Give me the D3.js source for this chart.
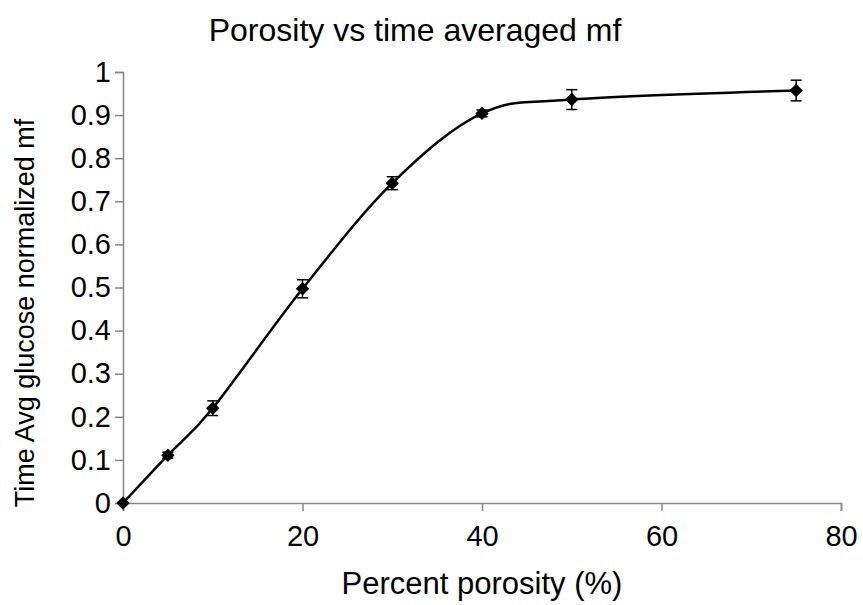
<!DOCTYPE html>
<html>
<head>
<meta charset="utf-8">
<script src="https://cdn.jsdelivr.net/npm/d3@7/dist/d3.min.js"></script>
<style>
  html, body { margin: 0; padding: 0; background: #fff; }
  svg { display: block; font-family: "Liberation Sans", Arial, sans-serif; }
</style>
</head>
<body>
<svg id="chart" width="863" height="605"></svg>
<script>
// Porosity (%) and time-averaged glucose-normalized mass fraction
const porosity = [0, 5, 10, 20, 30, 40, 50, 75];
const mfMean   = [0, 0.111, 0.220, 0.497, 0.742, 0.904, 0.936, 0.957];
const mfError  = [0, 0.007, 0.017, 0.021, 0.015, 0.008, 0.023, 0.024];
const xTicks = [0, 20, 40, 60, 80];
const yTicks = [0, 0.1, 0.2, 0.3, 0.4, 0.5, 0.6, 0.7, 0.8, 0.9, 1];

const svg = d3.select("#chart");
const margin = { left: 123, right: 22, top: 72, bottom: 102 };
const W = 863, H = 605;

const x = d3.scaleLinear().domain([0, 80]).range([margin.left, W - margin.right]);
const y = d3.scaleLinear().domain([0, 1]).range([H - margin.bottom, margin.top]);

const axisColor = "#868686";
const tickFont = 29;

// y axis
const gy = svg.append("g")
  .attr("transform", `translate(${x(0)},0)`)
  .call(d3.axisLeft(y).tickValues(yTicks).tickSize(8).tickPadding(4)
    .tickFormat(d => d3.format("")(+d.toFixed(1))));
gy.select(".domain").attr("stroke", axisColor).attr("stroke-width", 1.5);
gy.selectAll(".tick line").attr("stroke", axisColor).attr("stroke-width", 1.5);
gy.selectAll(".tick text").attr("fill", "#000").style("font-size", tickFont + "px");

// x axis
const gx = svg.append("g")
  .attr("transform", `translate(0,${y(0)})`)
  .call(d3.axisBottom(x).tickValues(xTicks).tickSize(8).tickPadding(14));
gx.select(".domain").attr("stroke", axisColor).attr("stroke-width", 1.5);
gx.selectAll(".tick line").attr("stroke", axisColor).attr("stroke-width", 1.5);
gx.selectAll(".tick text").attr("fill", "#000").style("font-size", tickFont + "px");

const pts = porosity.map((p, i) => ({ p, m: mfMean[i], e: mfError[i] }));

// smoothed connecting line
const line = d3.line().x(d => x(d.p)).y(d => y(d.m)).curve(d3.curveCardinal.tension(0));
svg.append("path").datum(pts)
  .attr("d", line).attr("fill", "none").attr("stroke", "#000").attr("stroke-width", 2.5);

// error bars
const cap = 5.5;
const eb = svg.append("g").attr("stroke", "#000").attr("stroke-width", 1.5);
pts.filter(d => d.e > 0).forEach(d => {
  const cx = x(d.p), y1 = y(d.m + d.e), y2 = y(d.m - d.e);
  eb.append("line").attr("x1", cx).attr("x2", cx).attr("y1", y1).attr("y2", y2);
  eb.append("line").attr("x1", cx - cap).attr("x2", cx + cap).attr("y1", y1).attr("y2", y1);
  eb.append("line").attr("x1", cx - cap).attr("x2", cx + cap).attr("y1", y2).attr("y2", y2);
});

// diamond markers
const diamond = d3.symbol().type(d3.symbolDiamond2).size(115);
svg.append("g").selectAll("path").data(pts).join("path")
  .attr("d", diamond)
  .attr("transform", d => `translate(${x(d.p)},${y(d.m)})`)
  .attr("fill", "#000");

// titles
svg.append("text").attr("x", 415).attr("y", 41).attr("text-anchor", "middle")
  .style("font-size", "32px").text("Porosity vs time averaged mf");
svg.append("text").attr("x", (x(0) + x(80)) / 2).attr("y", 594).attr("text-anchor", "middle")
  .style("font-size", "31px").text("Percent porosity (%)");
svg.append("text")
  .attr("transform", `translate(34,313) rotate(-90)`)
  .attr("text-anchor", "middle")
  .style("font-size", "27px").text("Time Avg glucose normalized mf");
</script>
</body>
</html>
